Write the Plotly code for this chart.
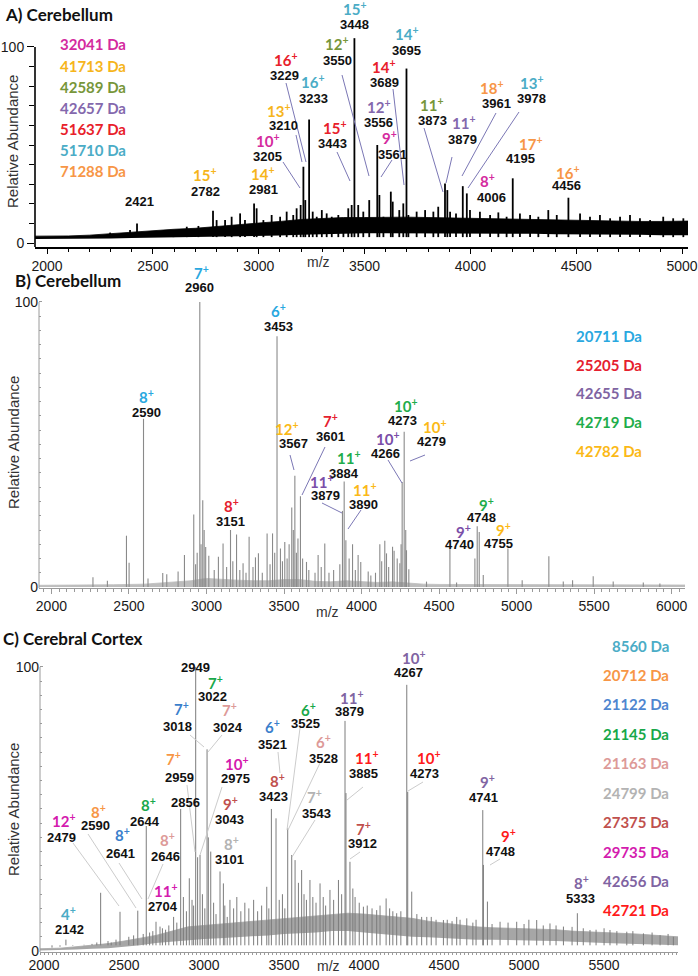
import plotly.graph_objects as go

W, H = 698, 976

# ---------------- Panel A data (Cerebellum) ----------------
a_peak_mz = [2298, 2392, 2425, 2597, 2660, 2715, 2784, 2801, 2841, 2872, 2912, 2935, 2978, 2990,
             3022, 3061, 3101, 3132, 3163, 3179, 3198, 3211, 3220, 3238, 3255, 3274, 3298, 3321,
             3345, 3376, 3400, 3423, 3439, 3452, 3470, 3494, 3522, 3560, 3570, 3589, 3624, 3633,
             3664, 3683, 3698, 3707, 3746, 3786, 3825, 3848, 3880, 3891, 3904, 3932, 3964, 3983,
             3998, 4045, 4093, 4132, 4171, 4200, 4234, 4282, 4321, 4368, 4408, 4463, 4518, 4565,
             4612, 4660, 4707, 4754, 4801, 4849, 4911, 4958, 5006]
a_peak_int = [5.3, 6.6, 10.0, 6.6, 8.3, 8.7, 16.5, 11.7, 11.7, 13.4, 15.1, 11.7, 20.2, 17.7,
              11.7, 14.3, 13.4, 16.0, 14.3, 17.7, 19.4, 38.9, 21.9, 63.0, 16.0, 13.4, 16.8, 15.1,
              13.4, 14.3, 12.6, 17.7, 19.4, 104.5, 19.4, 16.0, 21.9, 50.0, 24.5, 13.4, 26.2, 21.1,
              16.8, 20.2, 89.0, 14.3, 16.0, 16.8, 16.0, 18.5, 30.4, 27.0, 16.0, 15.1, 29.0, 25.3,
              16.8, 16.0, 14.3, 15.6, 13.4, 33.0, 15.1, 14.3, 13.4, 16.8, 14.3, 23.1, 15.1, 13.4,
              14.3, 12.6, 13.4, 14.3, 12.6, 11.7, 13.4, 12.6, 12.6]
a_base_mz = [1943, 2000, 2100, 2200, 2300, 2400, 2500, 2600, 2700, 2800, 2900, 3000, 3100, 3200,
             3300, 3400, 3500, 3600, 3700, 3800, 3900, 4000, 4100, 4200, 4300, 4400, 4500, 4600,
             4700, 4800, 4900, 5000, 5028]
a_base_lo = [2.0, 2.0, 2.0, 2.2, 2.3, 2.5, 2.7, 2.8, 3.0, 3.0, 3.2, 3.5, 3.8, 4.2,
             4.5, 4.8, 5.0, 5.0, 5.0, 5.0, 5.0, 5.0, 4.8, 4.8, 4.7, 4.5, 4.5, 4.4,
             4.3, 4.2, 4.0, 4.0, 4.0]
a_base_hi = [3.5, 3.5, 3.6, 4.0, 4.8, 5.5, 6.2, 7.0, 7.5, 8.5, 9.5, 10.2, 11.0, 12.0,
             12.5, 13.0, 13.0, 13.2, 13.2, 13.0, 12.8, 12.5, 12.2, 12.0, 11.8, 11.5, 11.3, 11.2,
             11.0, 11.0, 11.0, 11.2, 11.2]
a_legend = ["32041 Da", "41713 Da", "42589 Da", "42657 Da", "51637 Da", "51710 Da", "71288 Da"]

# ---------------- Panel B data (Cerebellum) ----------------
b_peak_mz = [2268, 2361, 2484, 2501, 2594, 2623, 2718, 2744, 2817, 2858, 2918, 2930, 2940, 2957,
             2965, 2976, 2985, 2995, 3015, 3050, 3077, 3107, 3130, 3155, 3170, 3194, 3215, 3236,
             3255, 3275, 3300, 3316, 3335, 3360, 3391, 3410, 3426, 3440, 3455, 3477, 3490, 3505,
             3520, 3533, 3550, 3560, 3570, 3580, 3590, 3606, 3620, 3645, 3660, 3700, 3720, 3740,
             3763, 3790, 3820, 3860, 3877, 3888, 3899, 3920, 3942, 3960, 3978, 3995, 4043, 4060,
             4090, 4118, 4130, 4150, 4161, 4175, 4200, 4210, 4230, 4247, 4255, 4262, 4275, 4285,
             4290, 4305, 4419, 4570, 4613, 4731, 4746, 4759, 4785, 4944, 5036, 5208, 5301, 5361,
             5494, 5623, 5817, 5924]
b_peak_int = [3.4, 2.2, 18.0, 8.5, 59.0, 3.0, 4.9, 4.5, 5.4, 11.2, 25.4, 8.0, 12.0, 100.0,
              15.0, 30.4, 20.0, 14.0, 11.0, 6.0, 10.6, 15.3, 7.0, 20.0, 9.0, 18.4, 6.0, 8.3,
              5.0, 17.6, 7.0, 10.4, 11.8, 5.0, 18.8, 8.0, 18.8, 12.0, 88.0, 13.5, 9.0, 15.8,
              10.0, 15.0, 27.9, 20.0, 39.0, 12.0, 17.0, 31.8, 10.0, 8.8, 6.0, 5.0, 11.2, 7.0,
              15.3, 5.0, 6.0, 8.0, 26.7, 37.0, 16.4, 10.0, 15.0, 6.0, 11.2, 8.8, 5.4, 4.0,
              5.0, 15.0, 9.0, 16.2, 11.8, 7.0, 14.1, 12.7, 10.0, 8.3, 15.0, 36.8, 54.5, 20.0,
              12.9, 6.2, 1.9, 13.5, 1.6, 10.0, 21.3, 19.3, 4.2, 13.5, 2.4, 10.8, 1.9, 2.4,
              3.8, 1.9, 1.6, 1.2]
b_base_mz = [1920, 2000, 2200, 2400, 2600, 2700, 2800, 2900, 3000, 3100, 3200, 3300, 3400, 3500,
             3600, 3700, 3800, 3900, 4000, 4100, 4200, 4300, 4400, 4500, 5000, 5500, 6086]
b_base_hi = [0.6, 0.6, 0.7, 0.8, 1.0, 1.4, 1.6, 2.2, 3.0, 2.6, 2.4, 2.2, 2.2, 2.6,
             2.6, 2.0, 1.8, 2.2, 1.8, 1.6, 1.8, 1.3, 1.0, 0.9, 0.8, 0.7, 0.7]
b_legend = ["20711 Da", "25205 Da", "42655 Da", "42719 Da", "42782 Da"]

# ---------------- Panel C data (Cerebral Cortex) ----------------
c_peak_mz = [2050, 2100, 2137, 2180, 2250, 2300, 2330, 2354, 2400, 2420, 2450, 2475, 2530, 2560,
             2586, 2620, 2639, 2660, 2680, 2700, 2725, 2740, 2760, 2780, 2810, 2830, 2854, 2871,
             2890, 2908, 2925, 2935, 2948, 2960, 2975, 2990, 3005, 3019, 3027, 3042, 3060, 3075,
             3100, 3121, 3130, 3145, 3162, 3185, 3205, 3230, 3255, 3280, 3310, 3335, 3360, 3392,
             3405, 3421, 3450, 3470, 3490, 3505, 3523, 3548, 3569, 3590, 3610, 3625, 3640, 3662,
             3680, 3700, 3725, 3745, 3760, 3787, 3810, 3840, 3860, 3881, 3887, 3912, 3930, 3944,
             3970, 3996, 4020, 4050, 4079, 4100, 4138, 4160, 4180, 4204, 4230, 4267, 4273, 4298,
             4330, 4360, 4392, 4420, 4450, 4496, 4520, 4550, 4579, 4600, 4642, 4680, 4700, 4742,
             4746, 4771, 4800, 4850, 4900, 4954, 5000, 5030, 5079, 5120, 5162, 5200, 5246, 5300,
             5333, 5370, 5412, 5450, 5500, 5537, 5580, 5642, 5680, 5746, 5800, 5850, 5900, 5933]
c_peak_int = [1.2, 1.5, 4.0, 1.8, 2.2, 2.5, 3.0, 20.5, 3.5, 3.0, 4.0, 13.8, 5.0, 5.5,
              14.2, 6.0, 44.0, 6.5, 7.0, 10.3, 8.6, 8.0, 7.5, 9.0, 12.0, 10.0, 50.0, 19.0,
              14.0, 25.6, 18.0, 16.0, 100.0, 33.0, 33.8, 20.0, 15.0, 71.0, 40.0, 35.0, 17.0, 13.0,
              28.0, 23.8, 16.0, 12.0, 18.0, 15.0, 19.0, 14.0, 17.0, 15.0, 18.0, 14.0, 16.0, 22.6,
              15.0, 50.0, 46.7, 18.0, 20.0, 15.0, 43.2, 33.8, 32.0, 24.0, 28.5, 20.0, 18.0, 25.0,
              19.0, 17.0, 23.8, 19.0, 16.0, 21.5, 18.0, 25.0, 20.0, 81.0, 55.6, 31.4, 22.0, 19.0,
              17.0, 15.6, 16.0, 15.0, 14.4, 16.0, 18.5, 15.0, 14.0, 13.3, 14.0, 93.7, 56.0, 20.9,
              13.0, 12.0, 12.0, 12.0, 11.0, 10.9, 11.0, 10.5, 12.0, 11.0, 11.5, 10.0, 11.0, 49.6,
              30.3, 17.4, 9.5, 10.3, 10.0, 10.3, 9.5, 11.0, 10.9, 9.0, 9.7, 9.0, 8.6, 8.5,
              13.3, 8.0, 7.4, 7.5, 8.0, 7.4, 7.0, 6.8, 7.0, 6.2, 6.5, 5.6, 6.0, 5.0]
c_base_mz = [1975, 2100, 2200, 2300, 2400, 2500, 2600, 2700, 2800, 2900, 3000, 3100, 3200, 3300,
             3400, 3500, 3600, 3700, 3800, 3900, 4000, 4100, 4200, 4300, 4400, 4500, 4600, 4700,
             4800, 4900, 5000, 5100, 5200, 5300, 5400, 5500, 5600, 5700, 5800, 5900, 5962]
c_base_lo = [0.2, 0.3, 0.5, 0.8, 1.0, 1.5, 2.0, 2.8, 3.3, 3.8, 4.2, 4.5, 4.8, 5.0,
             5.5, 6.0, 6.2, 6.5, 7.0, 7.0, 6.5, 6.0, 5.5, 5.0, 4.8, 4.5, 4.2, 4.0,
             4.0, 3.8, 3.8, 3.6, 3.5, 3.2, 3.0, 2.8, 2.6, 2.5, 2.3, 2.1, 2.0]
c_base_hi = [0.8, 1.0, 1.5, 2.0, 2.6, 3.5, 4.5, 5.5, 7.0, 8.5, 9.0, 9.5, 10.0, 10.5,
             11.0, 11.5, 12.0, 12.5, 13.0, 13.3, 13.0, 12.5, 12.0, 11.5, 10.5, 9.8, 9.0, 8.5,
             8.2, 8.0, 8.0, 7.8, 7.5, 7.0, 6.8, 6.5, 6.2, 6.0, 5.6, 5.2, 5.0]
c_legend = ["8560 Da", "20712 Da", "21122 Da", "21145 Da", "21163 Da", "24799 Da", "27375 Da",
            "29735 Da", "42656 Da", "42721 Da"]

# ---------------- colours ----------------
MAG, GOLD, OLIVE, PURP, RED, TEAL, ORNG = "#d42a9e", "#f6b51b", "#77963a", "#8468ad", "#e8202a", "#4bacc6", "#f79646"
a_legend_colors = [MAG, GOLD, OLIVE, PURP, RED, TEAL, ORNG]
B_CYAN, B_RED, B_PURP, B_GREEN, B_GOLD = "#29a8df", "#e5202e", "#7a4ea8", "#1fad4b", "#fbb917"
b_legend_colors = [B_CYAN, B_RED, "#8064a2", B_GREEN, B_GOLD]
C_TEAL, C_ORNG, C_BLUE, C_GREEN, C_PINK, C_GRAY, C_BROWN, C_MAG, C_PURP, C_RED = (
    "#4bacc6", "#f79646", "#3a7fcc", "#18a84a", "#dd9a98", "#b3b3b3", "#c0504d", "#d41bae", "#8064a2", "#ff1a1a")
c_legend_colors = [C_TEAL, C_ORNG, "#4f86d0", C_GREEN, C_PINK, C_GRAY, C_BROWN, C_MAG, C_PURP, C_RED]


def P(x, y):
    return x / W, 1 - y / H


fig = go.Figure()


def sticks(mz, inten, base):
    xs, ys = [], []
    for m, v in zip(mz, inten):
        xs += [m, m, None]
        ys += [base, v, None]
    return xs, ys


def add_panel(xa, ya, base_mz, lo, hi, pk_mz, pk_int, band_col, stick_col, stick_w, stick_base):
    fig.add_trace(go.Scatter(x=base_mz, y=lo, mode="lines", line=dict(width=0, color=band_col),
                             xaxis=xa, yaxis=ya, hoverinfo="skip", showlegend=False))
    fig.add_trace(go.Scatter(x=base_mz, y=hi, mode="lines", line=dict(width=0.8, color=band_col),
                             fill="tonexty", fillcolor=band_col, xaxis=xa, yaxis=ya,
                             hoverinfo="skip", showlegend=False))
    xs, ys = sticks(pk_mz, pk_int, stick_base)
    fig.add_trace(go.Scatter(x=xs, y=ys, mode="lines", line=dict(width=stick_w, color=stick_col),
                             xaxis=xa, yaxis=ya, hoverinfo="skip", showlegend=False))


add_panel("x", "y", a_base_mz, a_base_lo, a_base_hi, a_peak_mz, a_peak_int, "#000000", "#000000", 1.8, 3)
add_panel("x2", "y2", b_base_mz, [0] * len(b_base_mz), b_base_hi, b_peak_mz, b_peak_int, "#bdbdbd", "#8a8a8a", 1.1, 0)
add_panel("x3", "y3", c_base_mz, c_base_lo, c_base_hi, c_peak_mz, c_peak_int, "#a6a6a6", "#7c7c7c", 1.0, 2)

TF = dict(family="Arial, Liberation Sans, sans-serif", size=14, color="#1a1a1a")


def xax(dom, rng, lc, minor_dt, minor_len, lw, tlen=5):
    return dict(domain=[dom[0] / W, dom[1] / W], range=rng, showline=True, linecolor=lc, linewidth=lw,
                ticks="outside", ticklen=tlen, tickwidth=1, tickcolor=lc, dtick=500, tick0=0,
                minor=dict(dtick=minor_dt, tick0=0, ticklen=minor_len, ticks="outside", tickcolor=lc),
                showgrid=False, zeroline=False, tickfont=TF, fixedrange=True, automargin=False)


def yax(dom, rng, lc, tdir, tlen, minor_dt, minor_len, anchor):
    return dict(domain=[1 - dom[1] / H, 1 - dom[0] / H], range=rng, showline=False,
                ticks=tdir, ticklen=tlen, tickwidth=1, tickcolor=lc, dtick=100, tick0=0,
                minor=dict(dtick=minor_dt, tick0=0, ticklen=minor_len, ticks=tdir, tickcolor=lc),
                showgrid=False, zeroline=False, tickfont=TF, anchor=anchor, fixedrange=True,
                automargin=False)


fig.update_layout(
    template="none",
    width=W, height=H, margin=dict(l=0, r=0, t=0, b=0, pad=0),
    paper_bgcolor="white", plot_bgcolor="white", showlegend=False,
    xaxis=dict(**xax((35, 688), [1943, 5028], "#000000", 100, 3, 1.6), anchor="y"),
    yaxis=yax((30, 247), [-2.04, 108.67], "#000000", "outside", 7, 10, 5, "x"),
    xaxis2=dict(**xax((39, 685), [1920, 6086], "#9a9a9a", 50, 3, 1), anchor="y2"),
    yaxis2=yax((290, 588), [-0.35, 104.2], "#9a9a9a", "inside", 3, 5, 2, "x2"),
    xaxis3=dict(**xax((40, 678), [1975, 5962], "#9a9a9a", 25, 2, 1, tlen=2), anchor="y3",
                ticklabelstandoff=-2),
    yaxis3=yax((655, 952), [-0.35, 104.2], "#9a9a9a", "inside", 3, 5, 2, "x3"),
)

for ya, xa, y0, col, w in [("y", "x", -2.04, "#000000", 1.6), ("y2", "x2", -0.35, "#9a9a9a", 1),
                           ("y3", "x3", -0.35, "#9a9a9a", 1)]:
    fig.add_shape(type="line", xref=xa + " domain", yref=ya, x0=0, x1=0, y0=y0, y1=100,
                  line=dict(color=col, width=w))

LBL = "Lato, Open Sans, sans-serif"
NUM = "Arial, Liberation Sans, sans-serif"


def text(x, y, s, color, size, family, bold=True, xanchor="center", angle=0):
    px, py = P(x, y)
    fig.add_annotation(x=px, y=py, xref="paper", yref="paper", showarrow=False,
                       text=("<b>%s</b>" % s) if bold else s, xanchor=xanchor, yanchor="middle",
                       textangle=angle, font=dict(family=family, size=size, color=color))


def leader(x0, y0, x1, y1, color):
    a, b = P(x0, y0)
    c, d = P(x1, y1)
    fig.add_shape(type="line", xref="paper", yref="paper", x0=a, y0=b, x1=c, y1=d,
                  line=dict(color=color, width=1))


def labels(items):
    for ch, col, num, xc, yc, xn, yn in items:
        if ch is not None:
            text(xc, yc, ch + "<sup>+</sup>", col, 15, LBL)
        text(xn, yn, num, "#111111", 13, NUM)


text(3, 14, "A) Cerebellum", "#111111", 17, LBL, xanchor="left")
text(13, 280, "B) Cerebellum", "#111111", 17, LBL, xanchor="left")
text(1, 638, "C) Cerebral Cortex", "#111111", 17, LBL, xanchor="left")
for yy in (142, 443, 810):
    text(13, yy, "Relative Abundance", "#333333", 15, NUM, bold=False, angle=-90)
for xx, yy in ((318, 262), (327, 612), (328, 966)):
    text(xx, yy, "m/z", "#333333", 14, NUM, bold=False)

for i, (s, c) in enumerate(zip(a_legend, a_legend_colors)):
    text(93, [44, 66, 87, 108, 129, 150, 171][i], s, c, 15, LBL)
for i, (s, c) in enumerate(zip(b_legend, b_legend_colors)):
    text(609, [336, 365, 393, 422, 451][i], s, c, 15, LBL)
for i, (s, c) in enumerate(zip(c_legend, c_legend_colors)):
    text(671, [646, 675, 704, 734, 763, 793, 822, 852, 881, 910][i], s, c, 15, LBL, xanchor="right")

labels([
    ("15", GOLD, "2782", 205, 174, 205, 191), ("14", GOLD, "2981", 263, 173, 263, 189),
    (None, None, "2421", 0, 0, 139, 201), ("10", MAG, "3205", 268, 140, 267, 156),
    ("13", GOLD, "3210", 279, 110, 283, 126), ("16", RED, "3229", 286, 59, 284, 75),
    ("16", TEAL, "3233", 313, 82, 313, 99), ("15", RED, "3443", 335, 127, 332, 144),
    ("12", OLIVE, "3550", 337, 43, 337, 60), ("15", TEAL, "3448", 355, 9, 354, 24),
    ("14", TEAL, "3695", 407, 33, 407, 50), ("14", RED, "3689", 384, 66, 384, 83),
    ("12", PURP, "3556", 379, 107, 378, 123), ("9", MAG, "3561", 389, 137, 392, 154),
    ("11", OLIVE, "3873", 432, 104, 432, 120), ("11", PURP, "3879", 464, 122, 462, 139),
    ("18", ORNG, "3961", 492, 87, 496, 103), ("13", TEAL, "3978", 532, 83, 531, 99),
    ("8", MAG, "4006", 487, 180, 491, 197), ("17", ORNG, "4195", 531, 143, 520, 159),
    ("16", ORNG, "4456", 568, 172, 566, 186),
])
for seg in [(283, 162, 300, 188), (296, 135, 302, 162), (286, 83, 306, 162), (337, 152, 350, 181),
            (342, 75, 369, 176), (392, 160, 381, 177), (393, 89, 404, 185), (424, 128, 443, 192),
            (452, 157, 446, 183), (496, 113, 462, 176), (519, 112, 468, 188)]:
    leader(*seg, "#7b77b5")

labels([
    ("7", B_CYAN, "2960", 201, 272, 199, 287), ("6", B_CYAN, "3453", 278, 311, 278, 326),
    ("8", B_CYAN, "2590", 146, 396, 146, 412), ("8", B_RED, "3151", 231, 505, 230, 521),
    ("12", B_GOLD, "3567", 287, 428, 293, 443), ("7", B_RED, "3601", 330, 420, 330, 436),
    ("11", B_GREEN, "3884", 349, 458, 344, 473), ("11", B_PURP, "3879", 322, 481, 325, 495),
    ("11", B_GOLD, "3890", 365, 489, 364, 504), ("10", B_GREEN, "4273", 406, 405, 403, 420),
    ("10", B_PURP, "4266", 388, 438, 385, 453), ("10", B_GOLD, "4279", 435, 426, 431, 442),
    ("9", B_GREEN, "4748", 486, 504, 482, 517), ("9", B_PURP, "4740", 463, 531, 459, 544),
    ("9", B_GOLD, "4755", 503, 529, 498, 543),
])
for seg in [(290, 455, 294, 470), (325, 447, 302, 495), (322, 503, 342, 513), (361, 510, 348, 529),
            (388, 460, 402, 483), (425, 455, 410, 461)]:
    leader(*seg, "#7b77b5")

labels([
    (None, None, "2949", 0, 0, 195, 667), ("7", C_GREEN, "3022", 215, 682, 212, 696),
    ("7", C_BLUE, "3018", 182, 708, 177, 726), ("7", C_PINK, "3024", 229, 709, 228, 727),
    ("6", C_BLUE, "3521", 272, 726, 272, 744), ("6", C_GREEN, "3525", 308, 709, 305, 723),
    ("11", C_PURP, "3879", 352, 697, 349, 711), ("6", C_PINK, "3528", 323, 741, 323, 758),
    ("7", C_ORNG, "2959", 173, 758, 179, 777), ("10", C_MAG, "2975", 237, 763, 235, 778),
    ("8", C_BROWN, "3423", 277, 780, 273, 796), ("7", C_GRAY, "3543", 314, 796, 316, 813),
    (None, None, "2856", 0, 0, 185, 802), ("9", C_BROWN, "3043", 230, 803, 229, 819),
    ("8", C_GREEN, "2644", 148, 804, 145, 821), ("8", C_ORNG, "2590", 98, 811, 95, 825),
    ("12", C_MAG, "2479", 64, 820, 61, 837), ("8", C_BLUE, "2641", 122, 834, 121, 853),
    ("8", C_PINK, "2646", 167, 839, 165, 856), ("8", C_GRAY, "3101", 231, 843, 229, 859),
    ("11", C_MAG, "2704", 166, 890, 163, 906), ("4", C_TEAL, "2142", 68, 913, 69, 929),
    ("10", C_PURP, "4267", 414, 657, 408, 672), ("11", C_RED, "3885", 367, 757, 364, 773),
    ("10", C_RED, "4273", 429, 757, 424, 773), ("9", C_PURP, "4741", 487, 781, 484, 797),
    ("7", C_BROWN, "3912", 363, 828, 362, 843), ("9", C_RED, "4748", 508, 835, 500, 851),
    ("8", C_PURP, "5333", 581, 882, 580, 898),
])
for seg in [(73, 843, 119, 906), (88, 834, 136, 908), (119, 863, 142, 899), (163, 864, 148, 899),
            (187, 785, 195, 852), (222, 787, 200, 855), (190, 735, 204, 747), (222, 735, 208, 752),
            (300, 728, 287, 830), (320, 763, 288, 830), (315, 820, 292, 857), (363, 787, 347, 800),
            (360, 852, 350, 859), (423, 782, 408, 791), (500, 859, 490, 865), (278, 752, 280, 773)]:
    leader(*seg, "#cccccc")

fig.write_html("out.html", config={"displayModeBar": False},
               post_script="document.body.style.margin='0px';document.body.style.overflow='hidden';")
